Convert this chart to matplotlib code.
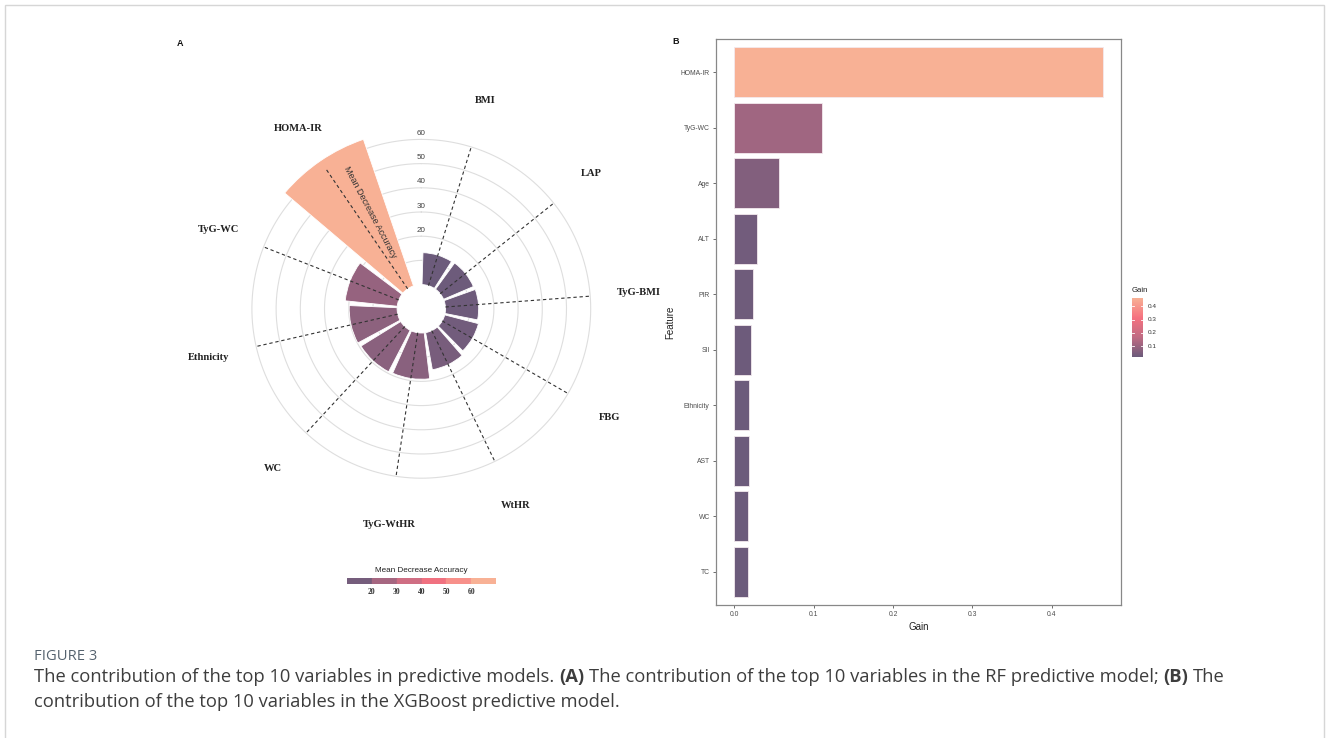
import numpy as np
import matplotlib
matplotlib.use("Agg")
import matplotlib.pyplot as plt
from matplotlib.colors import LinearSegmentedColormap, Normalize
from matplotlib.patches import Rectangle

# Panel A: random forest, mean decrease accuracy
rf_features = ["BMI", "LAP", "TyG-BMI", "FBG", "WtHR", "TyG-WtHR", "WC",
               "Ethnicity", "TyG-WC", "HOMA-IR"]
rf_mda = [13.2, 13.4, 13.7, 14.4, 15.6, 19.1, 19.3, 19.8, 21.6, 64.0]
rf_rings = [10, 20, 30, 40, 50, 60]
rf_ring_labels = [20, 30, 40, 50, 60]

# Panel B: XGBoost gain
xgb_features = ["HOMA-IR", "TyG-WC", "Age", "ALT", "PIR", "SII", "Ethnicity",
                "AST", "WC", "TC"]
xgb_gain = [0.464, 0.111, 0.0557, 0.0283, 0.024, 0.0207, 0.019, 0.0186,
            0.0177, 0.0173]
gain_ticks = [0.0, 0.1, 0.2, 0.3, 0.4]
gain_cbar_ticks = [0.1, 0.2, 0.3, 0.4]

W, H = 1328, 738
plt.rcParams["font.family"] = ["Liberation Sans", "DejaVu Sans"]
fig = plt.figure(figsize=(W / 100, H / 100), dpi=100)
fig.patch.set_facecolor("white")


def box(l, t, r, b):
    return [l / W, 1 - b / H, (r - l) / W, (b - t) / H]


cmap = LinearSegmentedColormap.from_list(
    "sunset", ["#6C5B7B", "#C06C84", "#F67280", "#F8B195"])
serif_bold = dict(family=["Liberation Serif", "DejaVu Serif"], weight="bold")

# ---------------- circular bar chart ----------------
cx, cy = 421.3, 308.8
px_per_unit = 2.42
r0, rmax = -10, 85
rad = (rmax - r0) * px_per_unit
ax = fig.add_axes(box(cx - rad, cy - rad, cx + rad, cy + rad), projection="polar")
ax.set_theta_zero_location("N")
ax.set_theta_direction(-1)
ax.set_ylim(r0, rmax)
ax.set_axis_off()

n = len(rf_features)
step = 2 * np.pi / (n + 0.5)
theta = (np.arange(n) + 0.5) * step
full = np.linspace(0, 2 * np.pi, 400)

for r in rf_rings:
    ax.plot(full, np.full_like(full, r), color="#dedede", lw=0.8, zorder=1)

norm_a = Normalize(min(rf_mda), max(rf_mda))
ax.bar(theta, rf_mda, width=0.9 * step, bottom=0,
       color=cmap(norm_a(np.array(rf_mda))), edgecolor="white", lw=0.6,
       zorder=2)

for t in theta:
    ax.plot([t, t], [0, 60], color="#333333", lw=0.8, ls=(0, (3, 2.5)),
            zorder=3)

for r in rf_ring_labels:
    ax.text(0, r + 2.4, str(r), ha="center", va="center", fontsize=5.8,
            color="#3f3f3f", zorder=4)

for t, name in zip(theta, rf_features):
    ax.text(t, 80, name, ha="center", va="center", fontsize=7.6,
            color="#222222", **serif_bold)

ang = np.deg2rad(332)
ax.text(ang, 35.3, "Mean Decrease Accuracy", rotation=-62,
        rotation_mode="anchor", ha="center", va="center", fontsize=6.5,
        color="#333333", zorder=4)

# stepped legend under the circle
cax = fig.add_axes(box(347, 578, 496, 584))
edges = np.arange(10, 71, 10)
for lo in edges[:-1]:
    cax.add_patch(Rectangle((lo, 0), 10, 1, color=cmap(norm_a(lo + 5))))
cax.set_xlim(10, 70)
cax.set_ylim(0, 1)
cax.set_axis_off()
for v in rf_ring_labels:
    fig.text((347 + (v - 10) * 149 / 60) / W, 1 - 592 / H, str(v),
             ha="center", va="center", fontsize=5.5, color="#333333",
             **serif_bold)
fig.text(421.5 / W, 1 - 571 / H, "Mean Decrease Accuracy", ha="center",
         va="center", fontsize=5.9, color="#222222")
fig.text(180 / W, 1 - 43 / H, "A", ha="center", va="center", fontsize=6.5,
         weight="bold", color="#111111")

# ---------------- horizontal bars ----------------
bx = fig.add_axes(box(716, 39, 1121, 605))
ypos = np.arange(n)[::-1]
norm_b = Normalize(min(xgb_gain), max(xgb_gain))
bx.barh(ypos, xgb_gain, height=0.9, color=cmap(norm_b(np.array(xgb_gain))),
        edgecolor="#f3e9ee", lw=0.6)
bx.set_ylim(-0.6, n - 0.4)
bx.set_xlim(-0.05 * max(xgb_gain), 1.05 * max(xgb_gain))
bx.set_yticks(ypos)
bx.set_yticklabels(xgb_features)
bx.set_xticks(gain_ticks)
bx.set_xticklabels([f"{v:.1f}" for v in gain_ticks])
bx.tick_params(length=2.5, width=0.6, color="#555555", labelsize=4.9,
               labelcolor="#4d4d4d", pad=2)
for s in bx.spines.values():
    s.set_color("#888888")
    s.set_linewidth(0.9)
bx.set_xlabel("Gain", fontsize=7, color="#222222", labelpad=3)
bx.set_ylabel("Feature", fontsize=7, color="#222222", labelpad=4)
fig.text(676 / W, 1 - 42 / H, "B", ha="center", va="center", fontsize=6.5,
         weight="bold", color="#111111")

# gain colour bar
gax = fig.add_axes(box(1132, 298, 1143, 357))
lo, hi = min(xgb_gain), max(xgb_gain)
grad = np.linspace(lo, hi, 256).reshape(-1, 1)
gax.imshow(grad, origin="lower", aspect="auto", cmap=cmap, norm=norm_b,
           extent=[0, 1, lo, hi])
gax.set_xlim(0, 1)
gax.set_ylim(lo, hi)
gax.set_axis_off()
for v in gain_cbar_ticks:
    gax.plot([0, 0.2], [v, v], color="white", lw=0.6)
    gax.plot([0.8, 1], [v, v], color="white", lw=0.6)
    gax.text(1.45, v, f"{v:.1f}", ha="left", va="center", fontsize=4.6,
             color="#333333", transform=gax.transData)
fig.text(1132 / W, 1 - 290 / H, "Gain", ha="left", va="center", fontsize=5.6,
         color="#222222")

# ---------------- caption ----------------
fig.patches.append(Rectangle((4.5 / W, -0.05), 1319 / W, 1 - 4.5 / H + 0.05,
                             transform=fig.transFigure, fill=False,
                             edgecolor="#d6d6d6", lw=1))
cap_family = ["Open Sans", "DejaVu Sans"]
fig.text(34 / W, 1 - 656 / H, "FIGURE 3", ha="left", va="center",
         fontsize=10.6, color="#56636f", family=cap_family)

renderer = fig.canvas.get_renderer()
cap_size = 13.25


def text_width(s, weight):
    t = fig.text(0, 0, s, fontsize=cap_size, weight=weight, family=cap_family)
    w = t.get_window_extent(renderer).width
    t.remove()
    return w


space_w = text_width("x x", "normal") - text_width("xx", "normal")


def draw_runs(x, y, runs):
    for s, weight in runs:
        lead = len(s) - len(s.lstrip(" "))
        trail = len(s) - len(s.rstrip(" "))
        x += lead * space_w
        t = fig.text(x / W, 1 - y / H, s.strip(" "), ha="left", va="center",
                     fontsize=cap_size, weight=weight, color="#3d3d3d",
                     family=cap_family)
        x += t.get_window_extent(renderer).width + trail * space_w


draw_runs(34, 677, [
    ("The contribution of the top 10 variables in predictive models. ", "normal"),
    ("(A)", "bold"),
    (" The contribution of the top 10 variables in the RF predictive model; ", "normal"),
    ("(B)", "bold"),
    (" The", "normal"),
])
draw_runs(34, 702, [
    ("contribution of the top 10 variables in the XGBoost predictive model.", "normal"),
])

fig.savefig("out.png", dpi=100)
